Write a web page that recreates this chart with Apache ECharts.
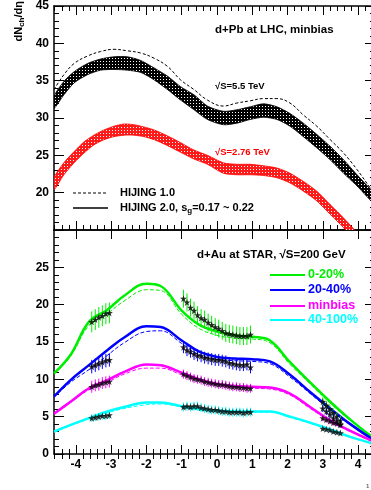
<!DOCTYPE html>
<html><head><meta charset="utf-8">
<script src="https://cdn.jsdelivr.net/npm/echarts@6/dist/echarts.min.js"></script>
<style>html,body{margin:0;padding:0;background:#fff}#c{width:371px;height:490px}</style>
</head><body><div id="c"></div>
<script>
// ---------- top panel: d+Pb at LHC ----------
const topX    = [-4.62,-4.34,-4.05,-3.67,-3.30,-2.92,-2.54,-2.16,-1.78,-1.40,-1.03,-0.65,-0.27,0.18,0.56,0.94,1.32,1.70,2.07,2.45,2.83,3.21,3.59,3.97,4.37,4.48];
const blkUp   = [32.9,34.9,36.2,37.3,37.9,38.2,38.2,37.7,36.7,35.6,34.2,33.1,31.6,30.9,31.1,31.5,31.9,31.5,30.6,29.3,27.8,26.2,24.4,22.4,20.4,19.9];
const blkLo   = [31.3,33.1,34.7,35.8,36.4,36.5,36.4,36.1,35.1,33.8,32.4,31.1,29.8,29.1,29.3,29.8,30.1,29.8,28.9,27.5,26.0,24.4,22.6,20.9,18.9,18.5];
const hij1    = [33.8,35.8,37.3,38.3,38.9,39.2,39.0,38.7,38.0,36.9,35.1,33.8,32.4,31.6,32.0,32.3,32.6,32.6,32.0,30.4,28.9,27.1,25.3,23.1,20.5,20.0];
const redX    = [-4.62,-4.34,-4.05,-3.77,-3.49,-3.20,-2.92,-2.63,-2.35,-2.07,-1.78,-1.40,-1.03,-0.65,-0.27,0.18,0.56,0.94,1.32,1.70,2.07,2.45,2.83,3.21,3.59,3.97];
const redUp   = [22.0,24.0,25.5,26.8,27.7,28.4,28.9,29.2,29.1,28.8,28.4,27.6,26.7,25.7,25.0,24.0,23.8,23.8,23.6,23.3,22.6,21.5,20.2,18.4,16.6,14.5];
const redLo   = [20.4,22.4,24.0,25.3,26.4,27.1,27.5,27.7,27.7,27.5,27.1,26.3,25.4,24.5,23.8,22.6,22.4,22.4,22.3,22.0,21.3,20.2,18.9,17.1,15.3,13.2];

// ---------- bottom panel: d+Au at STAR ----------
const botX     = [-4.62,-4.15,-3.63,-3.11,-2.63,-2.0,-1.6,-1.0,-0.5,0.0,0.5,1.0,1.5,2.07,2.64,3.21,3.78,4.34,4.48];
const green2   = [10.8,13.3,17.7,19.3,21.2,22.8,22.5,19.2,17.3,16.4,15.9,15.7,15.2,12.3,9.6,7.0,4.6,2.5,2.2];
const green1   = [10.7,13.1,17.2,18.8,20.5,22.0,21.9,18.7,16.8,15.9,15.5,15.4,14.9,12.0,9.4,6.8,4.5,2.4,2.1];
const blue2    = [7.7,9.9,11.9,13.9,15.6,17.1,17.0,15.2,13.7,13.0,12.8,12.7,12.4,10.6,8.3,6.1,4.0,2.2,1.9];
const blue1    = [7.6,9.6,11.3,13.2,14.9,16.4,16.5,14.8,13.3,12.7,12.5,12.4,12.1,10.3,8.1,5.9,3.9,2.1,1.8];
const mag2     = [5.4,7.0,8.8,9.9,11.0,12.0,11.9,10.9,10.0,9.4,9.1,9.0,8.9,8.1,6.3,4.5,3.1,1.9,1.7];
const mag1     = [5.3,6.9,8.6,9.6,10.7,11.5,11.5,10.6,9.8,9.2,8.9,8.8,8.7,7.9,6.1,4.4,3.0,1.8,1.6];
const cyan2    = [3.0,3.9,4.8,5.7,6.3,6.9,6.9,6.4,6.0,5.8,5.7,5.7,5.7,5.0,4.2,3.3,2.3,1.5,1.3];
const cyan1    = [2.9,3.8,4.7,5.5,6.1,6.6,6.7,6.3,5.9,5.7,5.6,5.6,5.6,4.9,4.1,3.2,2.2,1.5,1.3];

// STAR data points
const fwdX   = [-3.55,-3.45,-3.35,-3.25,-3.15,-3.05];
const midX   = [-0.95,-0.85,-0.75,-0.65,-0.55,-0.45,-0.35,-0.25,-0.15,-0.05,0.05,0.15,0.25,0.35,0.45,0.55,0.65,0.75,0.85,0.95];
const bwdX   = [3.0,3.1,3.2,3.3,3.4,3.5];
const gFwd = [17.7,18.0,18.3,18.5,18.8,18.9];
const bFwd = [11.7,11.9,12.1,12.3,12.5,12.6];
const mFwd = [9.0,9.2,9.3,9.5,9.6,9.7];
const cFwd = [4.8,4.9,5.0,5.1,5.1,5.2];
const gMid = [20.8,20.3,19.6,19.2,18.6,18.2,18.0,17.6,17.3,17.0,16.8,16.5,16.2,16.1,16.0,15.9,15.8,15.8,15.8,16.0];
const bMid = [14.3,13.9,13.7,13.4,13.2,13.1,12.9,12.8,12.7,12.6,12.6,12.5,12.4,12.2,12.1,12.0,11.9,11.9,12.0,11.6];
const mMid = [10.7,10.5,10.3,10.1,10.0,9.9,9.7,9.6,9.5,9.4,9.3,9.3,9.2,9.1,9.0,9.0,8.9,8.9,8.8,8.8];
const cMid = [6.3,6.4,6.3,6.4,6.4,6.2,6.1,6.0,5.9,5.9,5.8,5.7,5.7,5.6,5.6,5.6,5.6,5.5,5.6,5.6];
const gBwd = [7.0,6.5,6.0,5.5,5.0,4.5];
const bBwd = [6.1,5.7,5.3,4.8,4.4,4.0];
const mBwd = [4.8,4.6,4.4,4.2,4.1,3.9];
const cBwd = [3.4,3.3,3.2,3.0,2.9,2.8];
const gErr = [1.4,1.2,0.6];
const bErr = [0.9,0.8,0.5];
const mErr = [0.8,0.6,0.4];
const cErr = [0.5,0.6,0.3];

// tick labels
const xTickLabels = [-4,-3,-2,-1,0,1,2,3,4];
const xMinorTicks = [];
for (let k = -23; k <= 22; k++) { const v = +(k * 0.2).toFixed(1); if (Math.abs(v - Math.round(v)) > 1e-6) xMinorTicks.push(v); }

const F = '"Liberation Sans", Arial, sans-serif';
const XMIN = -4.62, XMAX = 4.48;

function pat(fg, bg) {
  const c = document.createElement('canvas'); c.width = 3; c.height = 3;
  const g = c.getContext('2d'); g.fillStyle = fg; g.fillRect(0, 0, 3, 3);
  g.fillStyle = bg; g.fillRect(1, 1, 1, 1); return c;
}
const pairs = (xs, ys) => xs.map((x, i) => [x, ys[i]]);

function xAxes(grid, labels) {
  const base = {type: 'value', gridIndex: grid, min: XMIN, max: XMAX, splitLine: {show: false}};
  const line = {show: true, onZero: false, lineStyle: {color: '#000', width: 1.5}};
  return [
    Object.assign({}, base, {position: 'bottom', axisLine: line,
      axisTick: {show: true, inside: true, length: 9, customValues: xTickLabels, lineStyle: {color: '#000', width: 1}},
      axisLabel: {show: labels, customValues: xTickLabels, margin: 5, color: '#000', fontSize: 12, fontWeight: 'bold', fontFamily: F}}),
    Object.assign({}, base, {position: 'bottom', axisLine: {show: false},
      axisTick: {show: true, inside: true, length: 5, customValues: xMinorTicks, lineStyle: {color: '#000', width: 1}},
      axisLabel: {show: false}}),
    Object.assign({}, base, {position: 'top', axisLine: line,
      axisTick: {show: true, inside: true, length: 9, customValues: xTickLabels, lineStyle: {color: '#000', width: 1}},
      axisLabel: {show: false}}),
    Object.assign({}, base, {position: 'top', axisLine: {show: false},
      axisTick: {show: true, inside: true, length: 5, customValues: xMinorTicks, lineStyle: {color: '#000', width: 1}},
      axisLabel: {show: false}})
  ];
}
function yAxes(grid, min, max, showMin, showMax) {
  const common = {type: 'value', gridIndex: grid, min: min, max: max, interval: 5, splitLine: {show: false},
    axisLine: {show: true, onZero: false, lineStyle: {color: '#000', width: 1.5}},
    axisTick: {show: true, inside: true, length: 10, lineStyle: {color: '#000', width: 1}},
    minorTick: {show: true, splitNumber: 5, length: 5, lineStyle: {color: '#000', width: 1}}};
  return [
    Object.assign({}, common, {position: 'left',
      axisLabel: {show: true, showMinLabel: showMin, showMaxLabel: showMax, margin: 5, color: '#000', fontSize: 12, fontWeight: 'bold', fontFamily: F}}),
    Object.assign({}, common, {position: 'right', axisLabel: {show: false}})
  ];
}

// band drawn as one closed polygon through the library's coordinate mapping
function band(xs, lo, up, fg, edge) {
  return {type: 'custom', xAxisIndex: 0, yAxisIndex: 0, silent: true, z: 2, clip: true,
    data: xs.map((x, i) => [x, lo[i], up[i]]),
    renderItem: function (params, api) {
      if (params.dataIndex !== 0) return;
      const pts = [];
      for (let i = 0; i < xs.length; i++) pts.push(api.coord([xs[i], up[i]]));
      for (let i = xs.length - 1; i >= 0; i--) pts.push(api.coord([xs[i], lo[i]]));
      const cs = params.coordSys;
      return {type: 'polygon', shape: {points: pts, smooth: 0.25},
        style: {fill: {image: fg, repeat: 'repeat'}, stroke: edge, lineWidth: 0.8},
        clipPath: {type: 'rect', shape: {x: cs.x, y: cs.y, width: cs.width, height: cs.height}}};
    }};
}

const STAR = 'path://M0,-10L2.35,-3.24L9.51,-3.09L3.8,1.24L5.88,8.09L0,4L-5.88,8.09L-3.8,1.24L-9.51,-3.09L-2.35,-3.24Z';
function errBars(xs, ys, e, color) {
  return {type: 'custom', xAxisIndex: 4, yAxisIndex: 2, silent: true, z: 4,
    data: xs.map((x, i) => [x, ys[i], e]),
    renderItem: function (p, api) {
      const x = api.value(0), y = api.value(1), er = api.value(2);
      const a = api.coord([x, y - er]), b = api.coord([x, y + er]);
      return {type: 'line', shape: {x1: a[0], y1: a[1], x2: b[0], y2: b[1]}, style: {stroke: color, lineWidth: 1}};
    }};
}
function stars(xs, ys) {
  return {type: 'scatter', xAxisIndex: 4, yAxisIndex: 2, data: pairs(xs, ys), symbol: STAR, symbolSize: 7,
    itemStyle: {color: '#000'}, z: 5, silent: true};
}
function centrality(ys2, ys1, fwd, mid, bwd, err, color) {
  return [
    {type: 'line', xAxisIndex: 4, yAxisIndex: 2, data: pairs(botX, ys1), smooth: 0.4, symbol: 'none',
      lineStyle: {color: color, width: 1, type: [4, 2]}, z: 2, silent: true},
    {type: 'line', xAxisIndex: 4, yAxisIndex: 2, data: pairs(botX, ys2), smooth: 0.4, symbol: 'none',
      lineStyle: {color: color, width: 2.5}, z: 3, silent: true},
    errBars(fwdX, fwd, err[0], color), errBars(midX, mid, err[1], color), errBars(bwdX, bwd, err[2], color),
    stars(fwdX, fwd), stars(midX, mid), stars(bwdX, bwd)
  ];
}

const GREEN = '#00ee00', BLUE = '#0000ff', MAG = '#ff00ff', CYAN = '#00ffff', RED = '#ff0000';
const blackPat = pat('#000', '#fff');
const redPat = pat('#ff1a1a', '#fff');

const series = [].concat(
  [band(topX, blkLo, blkUp, blackPat, '#000'), band(redX, redLo, redUp, redPat, RED)],
  [{type: 'line', xAxisIndex: 0, yAxisIndex: 0, data: pairs(topX, hij1), smooth: 0.4, symbol: 'none',
    lineStyle: {color: '#000', width: 1, type: [3, 2]}, z: 3, silent: true}],
  centrality(green2, green1, gFwd, gMid, gBwd, gErr, GREEN),
  centrality(blue2, blue1, bFwd, bMid, bBwd, bErr, BLUE),
  centrality(mag2, mag1, mFwd, mMid, mBwd, mErr, MAG),
  centrality(cyan2, cyan1, cFwd, cMid, cBwd, cErr, CYAN)
);

const txt = (t, x, y, size, color, align) => ({type: 'text', z: 10, silent: true,
  style: {text: t, x: x, y: y, fill: color, font: 'bold ' + size + 'px ' + F, textAlign: align || 'left', textVerticalAlign: 'middle'}});
const seg = (x1, x2, y, color, dash, w) => ({type: 'line', z: 10, silent: true,
  shape: {x1: x1, y1: y, x2: x2, y2: y}, style: {stroke: color, lineWidth: w || 1, lineDash: dash || null}});

const graphic = [
  {type: 'text', z: 10, silent: true, x: 19, y: 1, rotation: Math.PI / 2,
    style: {text: '{a|dN}{s|ch}{a|/dη}', textAlign: 'right', textVerticalAlign: 'middle',
      rich: {a: {font: 'bold 11px ' + F, fill: '#000'}, s: {font: 'bold 8px ' + F, fill: '#000', padding: [5, 0, 0, 0]}}}},
  txt('d+Pb at LHC, minbias', 215, 30, 11.5, '#000'),
  txt('√S=5.5 TeV', 215, 86, 9.5, '#000'),
  txt('√S=2.76 TeV', 215, 152, 9.5, RED),
  seg(73, 108, 193, '#000', [3, 2], 1),
  txt('HIJING 1.0', 120, 193, 11, '#000'),
  seg(73, 108, 208, '#000', null, 1.5),
  {type: 'text', z: 10, silent: true, x: 120, y: 208,
    style: {text: '{a|HIJING 2.0, s}{s|g}{a|=0.17 ~ 0.22}', textVerticalAlign: 'middle',
      rich: {a: {font: 'bold 11px ' + F, fill: '#000'}, s: {font: 'bold 8px ' + F, fill: '#000', padding: [6, 0, 0, 0]}}}},
  txt('d+Au at STAR, √S=200 GeV', 197, 255, 11.5, '#000'),
  seg(270, 305, 275, GREEN, null, 2), txt('0-20%', 308, 275, 12.5, GREEN),
  seg(270, 305, 290, BLUE, null, 2), txt('20-40%', 308, 290, 12.5, BLUE),
  seg(270, 305, 306, MAG, null, 2), txt('minbias', 308, 306, 12.5, MAG),
  seg(270, 305, 320, CYAN, null, 2), txt('40-100%', 308, 320, 12.5, CYAN),
  txt('1', 366, 486, 6, '#666')
];

const chart = echarts.init(document.getElementById('c'), null, {renderer: 'canvas'});
chart.setOption({
  animation: false,
  backgroundColor: '#fff',
  grid: [
    {left: 54, right: -4, top: 6, height: 224, outerBoundsMode: 'none'},
    {left: 54, right: -4, top: 230, height: 224, outerBoundsMode: 'none'}
  ],
  xAxis: [].concat(xAxes(0, false), xAxes(1, true)),
  yAxis: [].concat(yAxes(0, 15, 45, false, true), yAxes(1, 0, 30, true, false)),
  series: series,
  graphic: graphic
});
</script></body></html>
